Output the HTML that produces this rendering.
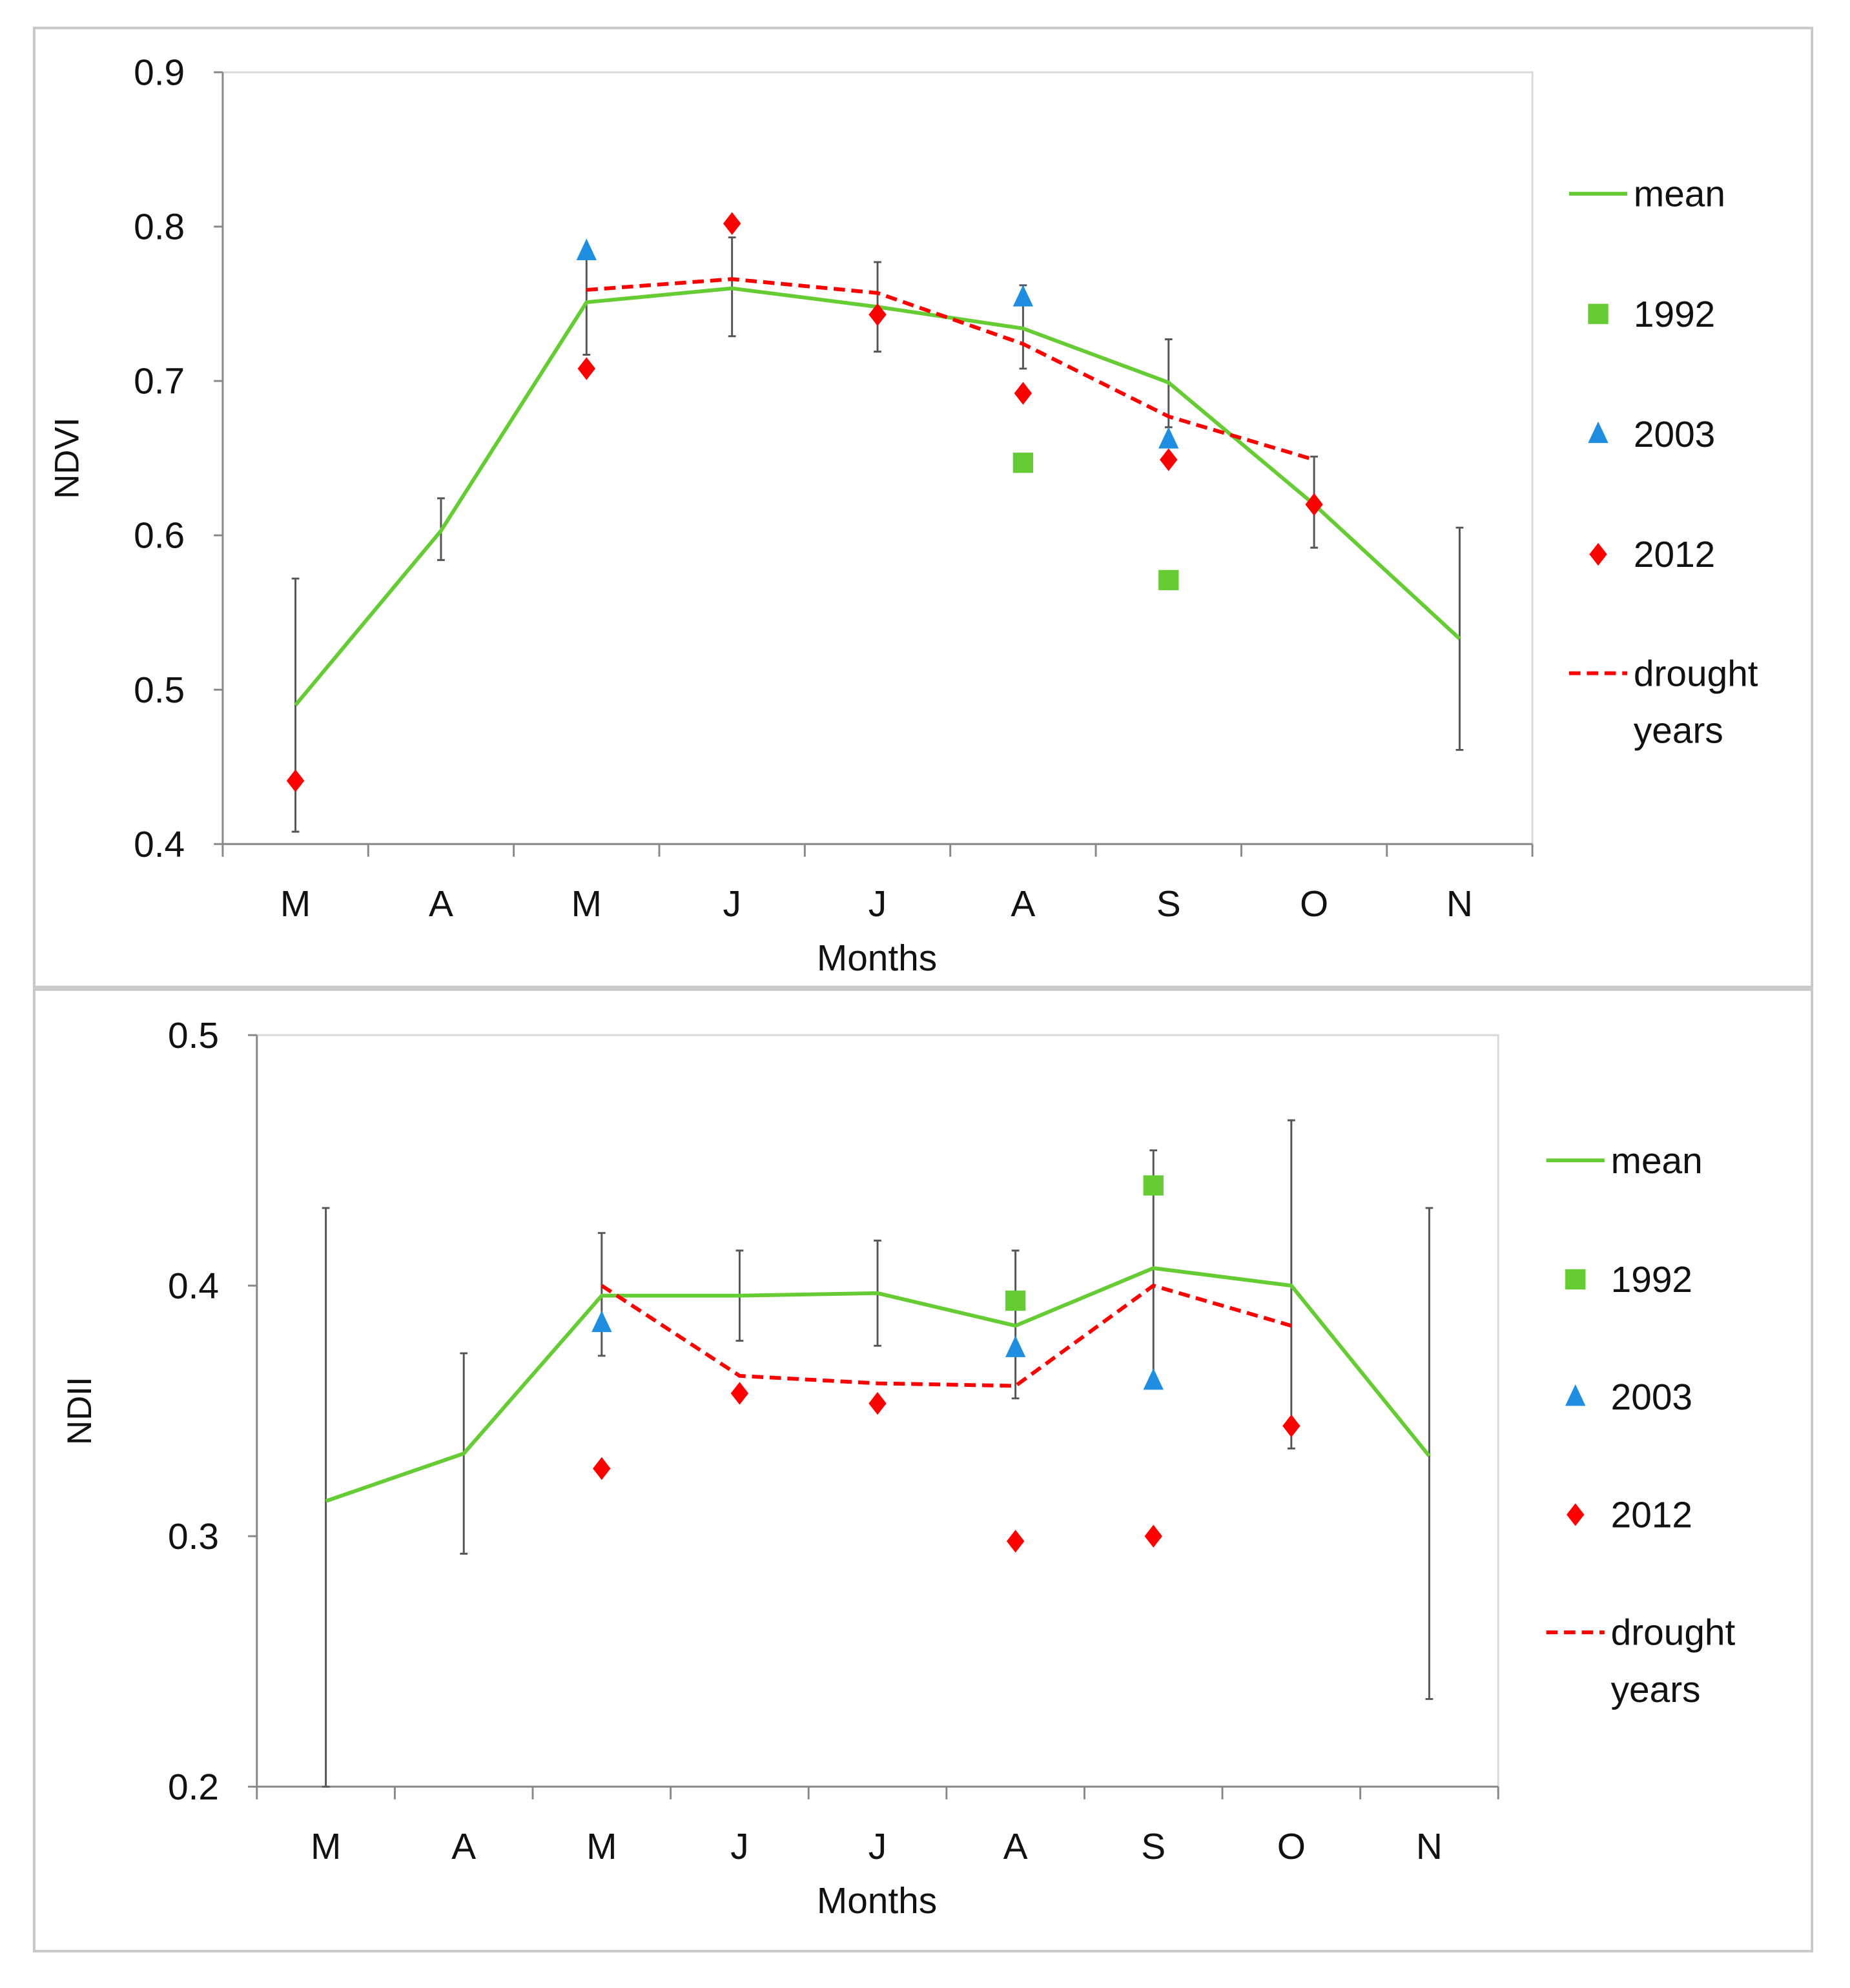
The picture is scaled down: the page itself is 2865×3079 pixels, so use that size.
<!DOCTYPE html>
<html><head><meta charset="utf-8"><style>
html,body{margin:0;padding:0;background:#fff;}
svg{display:block;}
text{font-family:"Liberation Sans",sans-serif;fill:#111;}
</style></head><body>
<svg id="fig" width="2865" height="3079" viewBox="0 0 1462 1571" xmlns="http://www.w3.org/2000/svg"></svg>
<script>
const months = ["M","A","M","J","J","A","S","O","N"];
// NDVI panel
const ndviMean = [0.49,0.603,0.751,0.76,0.748,0.734,0.699,0.62,0.533];
const ndviErrLow = [0.408,0.584,0.717,0.729,0.719,0.708,0.670,0.592,0.461];
const ndviErrHigh = [0.572,0.624,0.785,0.793,0.777,0.762,0.727,0.651,0.605];
const ndviDrought = [null,null,0.759,0.766,0.757,0.724,0.677,0.649,null];
const ndvi1992 = [null,null,null,null,null,0.647,0.571,null,null];
const ndvi2003 = [null,null,0.784,null,null,0.754,0.662,null,null];
const ndvi2012 = [0.441,null,0.708,0.802,0.743,0.692,0.649,0.620,null];
const ndviTicks = ["0.4","0.5","0.6","0.7","0.8","0.9"];
// NDII panel
const ndiiMean = [0.314,0.333,0.396,0.396,0.397,0.384,0.407,0.400,0.332];
const ndiiErrLow = [0.2,0.293,0.372,0.378,0.376,0.355,0.360,0.335,0.235];
const ndiiErrHigh = [0.431,0.373,0.421,0.414,0.418,0.414,0.454,0.466,0.431];
const ndiiDrought = [null,null,0.400,0.364,0.361,0.360,0.400,0.384,null];
const ndii1992 = [null,null,null,null,null,0.394,0.440,null,null];
const ndii2003 = [null,null,0.385,null,null,0.375,0.362,null,null];
const ndii2012 = [null,null,0.327,0.357,0.353,0.298,0.300,0.344,null];
const ndiiTicks = ["0.2","0.3","0.4","0.5"];

const NS="http://www.w3.org/2000/svg";
const svg=document.getElementById('fig');
function mk(tag,attrs,parent){const e=document.createElementNS(NS,tag);for(const k in attrs)e.setAttribute(k,attrs[k]);(parent||svg).appendChild(e);return e;}
const GREEN="#66cc33",BLUE="#1f8ee0",RED="#ff0000";

function panel(o){
  const g=mk('g',{});
  
  
  const fr=mk('rect',{x:27,y:o.fy0,width:1405,height:o.fy1-o.fy0,fill:'none',stroke:'#c8c8c8','stroke-width':2},g);
  
  const ymin=o.ymin,ymax=o.ymax;
  const Y=v=>o.y1-(v-ymin)/(ymax-ymin)*(o.y1-o.y0);
  const bw=(o.x1-o.x0)/months.length;
  const X=i=>o.x0+bw*(i+0.5);
  const pa=mk('rect',{x:o.x0,y:o.y0,width:o.x1-o.x0,height:o.y1-o.y0,fill:'none',stroke:'#d9d9d9','stroke-width':1.5},g);
  
  // axes
  const ya=mk('line',{x1:o.x0,y1:o.y0,x2:o.x0,y2:o.y1,stroke:'#888','stroke-width':1.5},g);
  
  const xa=mk('line',{x1:o.x0,y1:o.y1,x2:o.x1,y2:o.y1,stroke:'#888','stroke-width':1.5},g);
  
  o.ticks.forEach(t=>{const v=parseFloat(t);const y=Y(v);
    mk('line',{x1:o.x0-7,y1:y,x2:o.x0,y2:y,stroke:'#888','stroke-width':1.5},g);
    const tx=mk('text',{x:o.x0-30,y:y+10,'text-anchor':'end','font-size':29},g);tx.textContent=t;
    });
  for(let i=0;i<=months.length;i++){const x=o.x0+bw*i;mk('line',{x1:x,y1:o.y1,x2:x,y2:o.y1+10,stroke:'#888','stroke-width':1.5},g);}
  months.forEach((m,i)=>{const tx=mk('text',{x:X(i),y:o.y1+57,'text-anchor':'middle','font-size':29},g);tx.textContent=m;
    });
  const xt=mk('text',{x:693,y:o.y1+100,'text-anchor':'middle','font-size':29},g);xt.textContent='Months';
  
  const yc=(o.y0+o.y1)/2;
  const yt=mk('text',{x:o.ytx,y:yc,'text-anchor':'middle','font-size':27,transform:`rotate(-90 ${o.ytx} ${yc})`},g);yt.textContent=o.ylabel;
  
  // error bars
  o.lo.forEach((l,i)=>{const h=o.hi[i];const x=X(i);
    const eb=mk('path',{d:`M${x},${Y(l)}V${Y(h)}M${x-3},${Y(l)}h6M${x-3},${Y(h)}h6`,stroke:'#555','stroke-width':1.5,fill:'none'},g);
    });
  // mean line
  const ml=mk('polyline',{points:o.mean.map((v,i)=>X(i)+','+Y(v)).join(' '),fill:'none',stroke:GREEN,'stroke-width':3},g);
  
  const dp=o.drought.map((v,i)=>v==null?null:X(i)+','+Y(v)).filter(p=>p);
  const dl=mk('polyline',{points:dp.join(' '),fill:'none',stroke:RED,'stroke-width':3,'stroke-dasharray':'9,5'},g);
  
  o.s1992.forEach((v,i)=>{if(v==null)return;const r=mk('rect',{x:X(i)-8,y:Y(v)-8,width:16,height:16,fill:GREEN},g);
    });
  o.s2003.forEach((v,i)=>{if(v==null)return;const x=X(i),y=Y(v);const p=mk('polygon',{points:`${x},${y-10} ${x+8},${y+7} ${x-8},${y+7}`,fill:BLUE},g);
    });
  o.s2012.forEach((v,i)=>{if(v==null)return;const x=X(i),y=Y(v);const p=mk('polygon',{points:`${x},${y-9} ${x+7},${y} ${x},${y+9} ${x-7},${y}`,fill:RED},g);
    });
  // legend
  const L=o.leg,lx=o.lx;
  const lg=mk('g',{},g);
  function lt(t,y){const e=mk('text',{x:lx+51,y:y+10,'font-size':29},lg);e.textContent=t;}
  mk('line',{x1:lx,y1:L[0],x2:lx+46,y2:L[0],stroke:GREEN,'stroke-width':3},lg);lt('mean',L[0]);
  mk('rect',{x:lx+15,y:L[1]-8,width:16,height:16,fill:GREEN},lg);lt('1992',L[1]);
  const c=lx+23;mk('polygon',{points:`${c},${L[2]-10} ${c+8},${L[2]+7} ${c-8},${L[2]+7}`,fill:BLUE},lg);lt('2003',L[2]);
  mk('polygon',{points:`${c},${L[3]-9} ${c+7},${L[3]} ${c},${L[3]+9} ${c-7},${L[3]}`,fill:RED},lg);lt('2012',L[3]);
  mk('line',{x1:lx,y1:L[4],x2:lx+46,y2:L[4],stroke:RED,'stroke-width':3,'stroke-dasharray':'9,5'},lg);lt('drought',L[4]);lt('years',L[4]+45);
}
panel({name:'ndvi-panel',fy0:22,fy1:780,x0:176,x1:1211,y0:57,y1:667,ymin:0.4,ymax:0.9,ticks:ndviTicks,ylabel:'NDVI',ytx:62,
  mean:ndviMean,lo:ndviErrLow,hi:ndviErrHigh,drought:ndviDrought,s1992:ndvi1992,s2003:ndvi2003,s2012:ndvi2012,
  lx:1240,leg:[153,248,343,438,532]});
panel({name:'ndii-panel',fy0:782,fy1:1542,x0:203,x1:1184,y0:818,y1:1412,ymin:0.2,ymax:0.5,ticks:ndiiTicks,ylabel:'NDII',ytx:72,
  mean:ndiiMean,lo:ndiiErrLow,hi:ndiiErrHigh,drought:ndiiDrought,s1992:ndii1992,s2003:ndii2003,s2012:ndii2012,
  lx:1222,leg:[917,1011,1104,1197,1290]});
</script>
</body></html>
